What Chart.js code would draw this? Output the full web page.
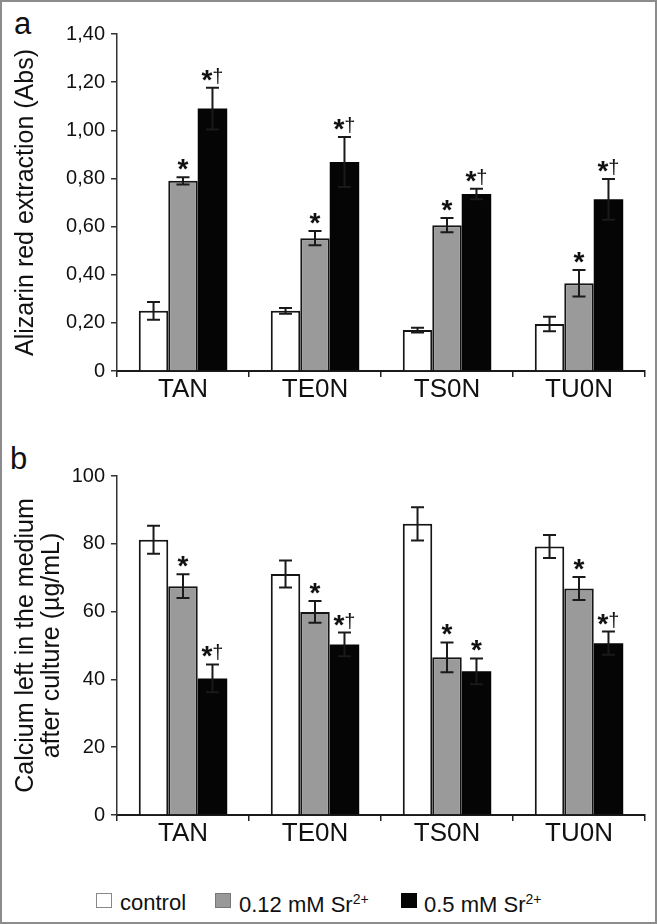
<!DOCTYPE html>
<html>
<head>
<meta charset="utf-8">
<script src="https://cdn.jsdelivr.net/npm/chart.js@4"></script>
<style>
  body { margin: 0; background: #fff; }
  #frame { position: relative; width: 657px; height: 924px; box-sizing: border-box; border: 2px solid #8c8c8c; overflow: hidden; }
  canvas { position: absolute; left: -2px; }
  .panel { position: absolute; font-family: 'Liberation Sans', Arial, sans-serif; font-size: 31px; color: #111; line-height: 1; }
  .leg { position: absolute; font-family: 'Liberation Sans', Arial, sans-serif; font-size: 22px; color: #111; line-height: 1; white-space: nowrap; }
  .leg sup { font-size: 14px; vertical-align: 8px; }
  .sq { position: absolute; width: 16px; height: 15px; box-sizing: border-box; }
</style>
</head>
<body>
<div id="frame">
  <div class="panel" style="left:12px; top:6px;">a</div>
  <div class="panel" style="left:8px; top:441px;">b</div>
  <canvas id="chartA" width="657" height="410" style="top:-2px;"></canvas>
  <canvas id="chartB" width="657" height="434" style="top:418px;"></canvas>

  <div class="sq" style="left:94px; top:891px; border:1px solid #888; background:#fff;"></div>
  <div class="leg" style="left:118px; top:890px;">control</div>
  <div class="sq" style="left:213px; top:891px; border:1px solid #777; background:#999;"></div>
  <div class="leg" style="left:237px; top:890px;">0.12 mM Sr<sup>2+</sup></div>
  <div class="sq" style="left:399px; top:891px; background:#050505;"></div>
  <div class="leg" style="left:422px; top:890px;">0.5 mM Sr<sup>2+</sup></div>
</div>
<script>
const categories = ['TAN', 'TE0N', 'TS0N', 'TU0N'];
const seriesNames = ['control', '0.12 mM Sr2+', '0.5 mM Sr2+'];

// panel a - alizarin red (Abs)
const alizControl = [0.25, 0.25, 0.17, 0.195];
const alizControlErr = [0.037, 0.012, 0.01, 0.03];
const aliz012 = [0.79, 0.552, 0.606, 0.365];
const aliz012Err = [0.015, 0.03, 0.03, 0.055];
const aliz05 = [1.09, 0.868, 0.735, 0.713];
const aliz05Err = [0.087, 0.104, 0.022, 0.085];
const alizSig012 = ['*', '*', '*', '*'];
const alizSig05 = ['*†', '*†', '*†', '*†'];
const alizTicks = ['0', '0,20', '0,40', '0,60', '0,80', '1,00', '1,20', '1,40'];

// panel b - calcium left in medium (µg/mL)
const calcControl = [81.2, 71.1, 85.9, 79.2];
const calcControlErr = [4.1, 4.0, 4.9, 3.4];
const calc012 = [67.5, 59.9, 46.5, 66.8];
const calc012Err = [3.5, 3.2, 4.4, 3.4];
const calc05 = [40.3, 50.3, 42.4, 50.7];
const calc05Err = [4.1, 3.5, 3.8, 3.4];
const calcSig012 = ['*', '*', '*', '*'];
const calcSig05 = ['*†', '*†', '*', '*†'];
const calcTicks = ['0', '20', '40', '60', '80', '100'];

const fillColors = ['#ffffff', '#9a9a9a', '#050505'];
const FONT = "'Liberation Sans', Arial, sans-serif";

Chart.defaults.font.family = FONT;
Chart.defaults.color = '#111';

// error bars + significance marks, positioned with the chart's own scales
const errorBarPlugin = {
  id: 'errorBars',
  afterDatasetsDraw(chart) {
    const ctx = chart.ctx;
    const yScale = chart.scales.y;
    chart.data.datasets.forEach((ds, di) => {
      const meta = chart.getDatasetMeta(di);
      meta.data.forEach((bar, i) => {
        const v = ds.data[i];
        const e = ds.errors[i];
        const yTop = yScale.getPixelForValue(v + e);
        const yBot = yScale.getPixelForValue(v - e);
        const x = bar.x;
        ctx.save();
        ctx.strokeStyle = '#1a1a1a';
        ctx.lineWidth = 2;
        ctx.beginPath();
        ctx.moveTo(x, yTop); ctx.lineTo(x, yBot);
        ctx.moveTo(x - 6.5, yTop); ctx.lineTo(x + 6.5, yTop);
        ctx.moveTo(x - 6.5, yBot); ctx.lineTo(x + 6.5, yBot);
        ctx.stroke();
        const sig = ds.sig ? ds.sig[i] : '';
        if (sig) {
          ctx.fillStyle = '#111';
          ctx.textAlign = 'left';
          ctx.textBaseline = 'alphabetic';
          const star = 'bold 28px ' + FONT;
          const dag = '20px ' + FONT;
          ctx.font = star;
          const w1 = ctx.measureText('*').width;
          let w2 = 0;
          if (sig.length > 1) { ctx.font = dag; w2 = ctx.measureText('†').width; }
          const x0 = x - (w1 + w2) / 2;
          ctx.font = star;
          ctx.fillText('*', x0, yTop + 1);
          if (sig.length > 1) {
            ctx.font = dag;
            ctx.fillText('†', x0 + w1, yTop - 5);
          }
        }
        ctx.restore();
      });
    });
  }
};

function makeDatasets(vals, errs, sigs) {
  return vals.map((v, k) => ({
    label: seriesNames[k],
    data: v,
    errors: errs[k],
    sig: sigs[k],
    backgroundColor: fillColors[k],
    borderColor: '#151515',
    borderWidth: k === 2 ? 0 : 2,
    borderSkipped: 'bottom',
    barPercentage: 1.0,
    categoryPercentage: 0.67
  }));
}

function makeOptions(max, step, tickLabels, title, padTop) {
  return {
    responsive: false,
    animation: false,
    devicePixelRatio: 1,
    layout: { padding: { left: 0, right: 12, top: padTop, bottom: 0 } },
    plugins: { legend: { display: false }, tooltip: { enabled: false } },
    scales: {
      x: {
        afterFit: (s) => { s.height = 39; },
        grid: { drawOnChartArea: false, drawTicks: true, tickLength: 6, color: '#222', lineWidth: 1.5 },
        border: { display: true, color: '#1a1a1a', width: 2 },
        ticks: { padding: 0, color: '#111', font: { size: 26, lineHeight: 1 } }
      },
      y: {
        min: 0,
        max: max,
        afterFit: (s) => { s.width = 117; },
        grid: { drawOnChartArea: false, drawTicks: true, tickLength: 6, color: '#333', lineWidth: 1.5 },
        border: { display: true, color: '#333', width: 1.5 },
        ticks: {
          stepSize: step,
          padding: 6,
          color: '#111',
          font: { size: 20 },
          callback: (v, i) => tickLabels[i]
        },
        title: {
          display: true,
          text: title,
          color: '#111',
          font: { size: 25, lineHeight: 1.05 },
          padding: { top: 13, bottom: 0 }
        }
      }
    }
  };
}

new Chart(document.getElementById('chartA'), {
  type: 'bar',
  data: {
    labels: categories,
    datasets: makeDatasets(
      [alizControl, aliz012, aliz05],
      [alizControlErr, aliz012Err, aliz05Err],
      [null, alizSig012, alizSig05]
    )
  },
  options: makeOptions(1.4, 0.2, alizTicks, 'Alizarin red extraction (Abs)', 34),
  plugins: [errorBarPlugin]
});

new Chart(document.getElementById('chartB'), {
  type: 'bar',
  data: {
    labels: categories,
    datasets: makeDatasets(
      [calcControl, calc012, calc05],
      [calcControlErr, calc012Err, calc05Err],
      [null, calcSig012, calcSig05]
    )
  },
  options: makeOptions(100, 20, calcTicks, ['Calcium left in the medium', 'after culture (\u00b5g/mL)'], 56),
  plugins: [errorBarPlugin]
});
</script>
</body>
</html>
